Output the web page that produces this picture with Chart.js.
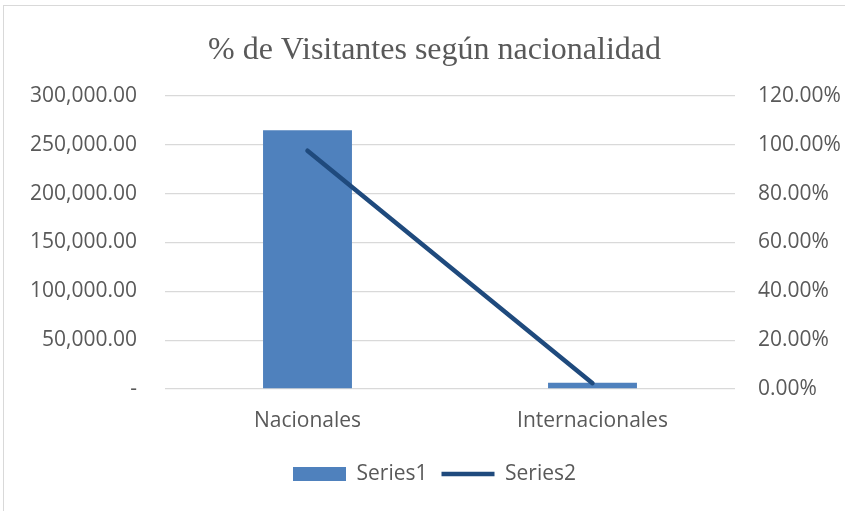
<!DOCTYPE html>
<html>
<head>
<meta charset="utf-8">
<script src="https://cdn.jsdelivr.net/npm/chart.js@4.4.1/dist/chart.umd.min.js"></script>
<style>
  html, body { margin: 0; padding: 0; background: #fff; overflow: hidden; }
  #wrap { position: relative; width: 845px; height: 511px; }
  #frame { position: absolute; left: 3px; top: 5px; right: 0; bottom: 0; border-left: 1px solid #d9d9d9; border-top: 1px solid #d9d9d9; pointer-events: none; }
</style>
</head>
<body>
<div id="wrap">
  <canvas id="chart" width="845" height="511"></canvas>
  <div id="frame"></div>
</div>
<script>
// DATA
const categories = ["Nacionales", "Internacionales"];
const series1 = [265000, 6500];
const series2 = [0.976, 0.024];
const titleText = "% de Visitantes según nacionalidad";

const textColor = "#595959";
const gridColor = "#d9d9d9";
const axisFont = { family: "Open Sans", size: 21 };

const chartEl = document.getElementById("chart");

new Chart(chartEl, {
    data: {
        labels: categories,
        datasets: [
            {
                type: "line",
                label: "Series2",
                data: series2,
                yAxisID: "y2",
                borderColor: "#1f4a7d",
                backgroundColor: "#1f4a7d",
                borderWidth: 4.5,
                borderCapStyle: "round",
                pointRadius: 0,
                pointStyle: "line",
                tension: 0,
                order: 0,
            },
            {
                type: "bar",
                label: "Series1",
                data: series1,
                yAxisID: "y",
                backgroundColor: "#4f81bd",
                borderWidth: 0,
                categoryPercentage: 1,
                barPercentage: 0.312,
                pointStyle: "rect",
                order: 1,
            },
        ],
    },
    options: {
        responsive: false,
        animation: false,
        layout: { padding: { top: 10, bottom: 16.5, left: 24, right: 0 } },
        plugins: {
            title: {
                display: true,
                text: titleText,
                color: textColor,
                font: { family: "Liberation Serif", size: 32, weight: "normal" },
                padding: { top: 21, bottom: 26.6 },
            },
            legend: {
                position: "bottom",
                reverse: true,
                labels: {
                    color: textColor,
                    font: axisFont,
                    usePointStyle: true,
                    pointStyleWidth: 53,
                    boxHeight: 14,
                    padding: 14,
                },
            },
            tooltip: { enabled: false },
        },
        scales: {
            x: {
                grid: { display: false },
                border: { display: false },
                ticks: { color: textColor, font: axisFont, padding: 11 },
                afterFit: (axis) => { axis.height = 60.5; },
            },
            y: {
                position: "left",
                min: 0,
                max: 300000,
                grid: { color: gridColor, lineWidth: 1.3, drawTicks: false },
                border: { display: false },
                ticks: {
                    stepSize: 50000,
                    color: textColor,
                    font: axisFont,
                    padding: 28,
                    callback: (v) => v === 0 ? "-" : v.toLocaleString("en-US", { minimumFractionDigits: 2, maximumFractionDigits: 2 }),
                },
                afterFit: (axis) => { axis.width = 141; },
            },
            y2: {
                position: "right",
                min: 0,
                max: 1.2,
                grid: { display: false, drawTicks: false },
                border: { display: false },
                ticks: {
                    stepSize: 0.2,
                    color: textColor,
                    font: axisFont,
                    padding: 23,
                    callback: (v) => (v * 100).toFixed(2) + "%",
                },
                afterFit: (axis) => { axis.width = 110; },
            },
        },
    },
});
</script>
</body>
</html>
